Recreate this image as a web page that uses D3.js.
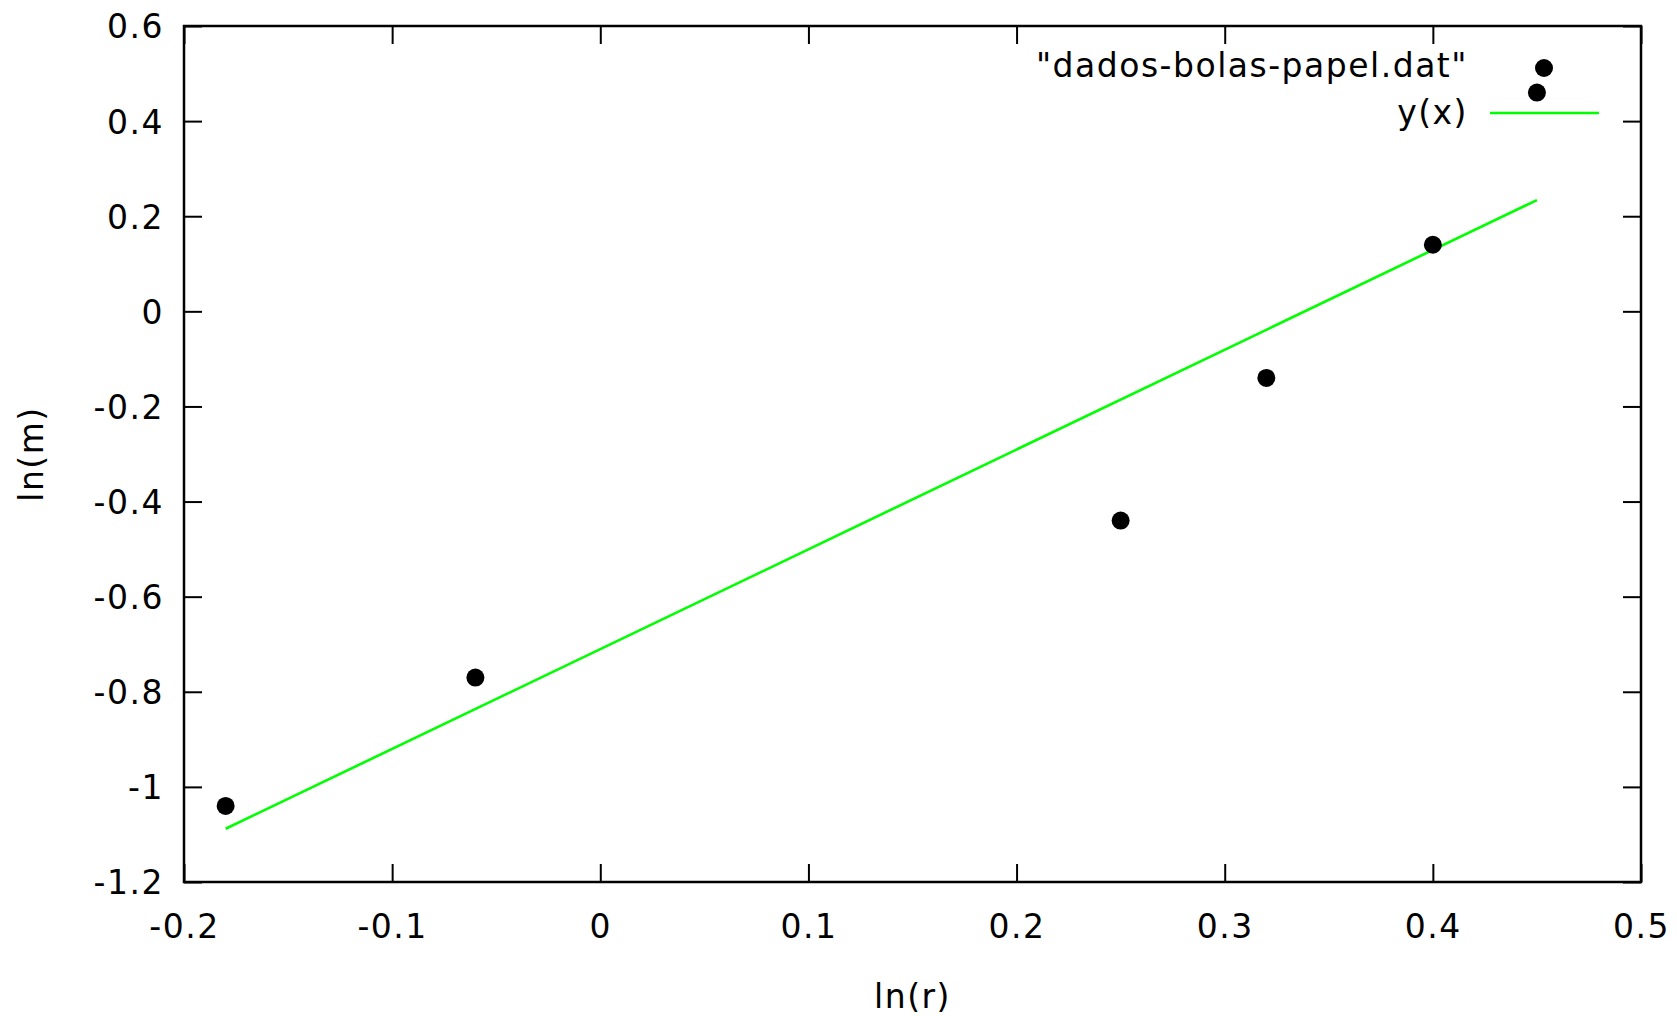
<!DOCTYPE html>
<html>
<head>
<meta charset="utf-8">
<script src="https://cdn.jsdelivr.net/npm/d3@7"></script>
<style>
  html, body { margin: 0; padding: 0; background: #fff; }
  svg text { font-family: "DejaVu Sans", sans-serif; font-size: 33px; letter-spacing: 1.5px; fill: #000; }
</style>
</head>
<body>
<svg id="chart" width="1677" height="1016"></svg>
<script>
// ---- data ----
const lnR = [-0.18, -0.06, 0.25, 0.32, 0.40, 0.45];
const lnM = [-1.04, -0.77, -0.44, -0.14, 0.14, 0.46];
// fitted line y(x), endpoints
const fitX = [-0.18, 0.45];
const fitY = [-1.088, 0.234];
const xTicks = [-0.2, -0.1, 0, 0.1, 0.2, 0.3, 0.4, 0.5];
const xTickLabels = ["-0.2", "-0.1", "0", "0.1", "0.2", "0.3", "0.4", "0.5"];
const yTicks = [0.6, 0.4, 0.2, 0, -0.2, -0.4, -0.6, -0.8, -1, -1.2];
const yTickLabels = ["0.6", "0.4", "0.2", "0", "-0.2", "-0.4", "-0.6", "-0.8", "-1", "-1.2"];
const seriesNames = ["\"dados-bolas-papel.dat\"", "y(x)"];

// ---- layout ----
const pL = 184, pR = 1641, pT = 26, pB = 882;
const svg = d3.select("#chart");
const x = d3.scaleLinear().domain([-0.2, 0.5]).range([pL, pR]);
const y = d3.scaleLinear().domain([-1.2, 0.6]).range([pB, pT]);
const tick = 18;

// axes (ticks inward, mirrored)
const gB = svg.append("g").attr("transform", `translate(0,${pB})`)
  .call(d3.axisBottom(x).tickValues(xTicks).tickSize(-tick).tickSizeOuter(0)
    .tickFormat((d, i) => xTickLabels[i]));
gB.selectAll("text").attr("y", 56).attr("dy", null);
const gT = svg.append("g").attr("transform", `translate(0,${pT})`)
  .call(d3.axisTop(x).tickValues(xTicks).tickSize(-tick).tickSizeOuter(0).tickFormat(""));
const gL = svg.append("g").attr("transform", `translate(${pL},0)`)
  .call(d3.axisLeft(y).tickValues(yTicks).tickSize(-tick).tickSizeOuter(0)
    .tickFormat((d, i) => yTickLabels[i]));
gL.selectAll("text").attr("x", -20).attr("dy", "0.36em");
const gR = svg.append("g").attr("transform", `translate(${pR},0)`)
  .call(d3.axisRight(y).tickValues(yTicks).tickSize(-tick).tickSizeOuter(0).tickFormat(""));

[gB, gT, gL, gR].forEach(g => {
  g.select(".domain").remove();
  g.selectAll("line").attr("stroke", "#000").attr("stroke-width", 2);
  g.attr("font-family", null).attr("font-size", null);
  g.selectAll("text").attr("fill", "#000");
});

// border
svg.append("rect").attr("x", pL).attr("y", pT)
  .attr("width", pR - pL).attr("height", pB - pT)
  .attr("fill", "none").attr("stroke", "#000").attr("stroke-width", 2.5);

// fit line
svg.append("path")
  .datum(fitX.map((v, i) => [v, fitY[i]]))
  .attr("d", d3.line().x(d => x(d[0])).y(d => y(d[1])))
  .attr("fill", "none").attr("stroke", "#00ff00").attr("stroke-width", 2.6);

// points
svg.append("g").selectAll("circle")
  .data(lnR.map((v, i) => [v, lnM[i]]))
  .join("circle")
  .attr("cx", d => x(d[0])).attr("cy", d => y(d[1]))
  .attr("r", 9).attr("fill", "#000");

// axis titles
svg.append("text").attr("x", (pL + pR) / 2).attr("y", 1008)
  .attr("text-anchor", "middle").text("ln(r)");
svg.append("text").attr("transform", `translate(43,${(pT + pB) / 2}) rotate(-90)`)
  .attr("text-anchor", "middle").text("ln(m)");

// legend
const lg = svg.append("g");
lg.append("text").attr("x", 1468).attr("y", 77).attr("text-anchor", "end").text(seriesNames[0]);
lg.append("circle").attr("cx", 1544).attr("cy", 68).attr("r", 9).attr("fill", "#000");
lg.append("text").attr("x", 1468).attr("y", 124).attr("text-anchor", "end").text(seriesNames[1]);
lg.append("line").attr("x1", 1490).attr("x2", 1599).attr("y1", 113).attr("y2", 113)
  .attr("stroke", "#00ff00").attr("stroke-width", 2.6);
</script>
</body>
</html>
